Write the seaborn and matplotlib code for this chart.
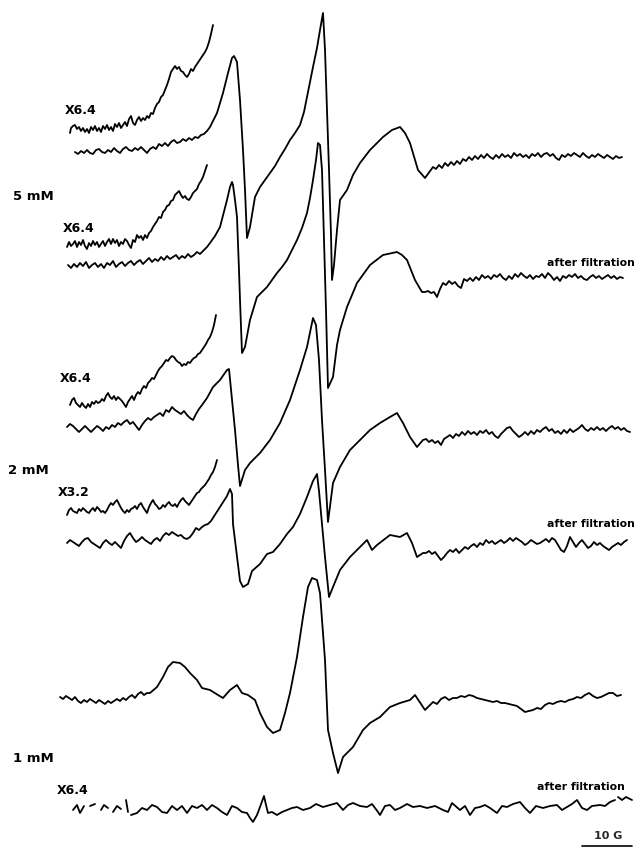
import pandas as pd
import matplotlib
matplotlib.use('Agg')
import matplotlib.pyplot as plt
import seaborn as sns

sns.set_theme(style="white")
plt.rcParams["font.family"] = ["DejaVu Sans"]

# ==== Spectra (field in chart units, signal up = positive) ====
# --- 5 mM, before filtration ---
t1_field = ([75, 78, 81, 84, 87, 90, 93, 96, 99, 102, 105, 108, 111, 114, 117, 120, 123, 126, 129, 132,
             135, 138, 141, 144, 147, 150, 153, 156, 159, 162, 165, 168, 171, 174, 177, 180, 183, 186, 189, 192,
             195, 198, 201, 204]
            + [207, 210, 213, 217, 223, 228, 232, 234, 237, 240, 243, 245, 247, 250, 255, 260, 265, 270, 275, 280,
               285, 290, 295, 300, 304, 307, 310, 313, 317, 320, 323, 325, 327, 329, 331, 332, 334, 337, 340, 347,
               353, 360, 370, 383, 392, 400, 405, 410, 418, 425]
            + [433, 436, 439, 442, 445, 448, 451, 454, 457, 460, 463, 466, 469, 472, 475, 478, 481, 484, 487, 490,
               493, 496, 499, 502, 505, 508, 511, 514, 517, 520, 523, 526, 529, 532, 535, 538, 541, 544, 547, 550,
               553, 556, 559, 562, 565, 568, 571, 574, 577, 580, 583, 586, 589, 592, 595, 598, 601, 604, 607, 610,
               613, 616, 619, 622])
t1_signal = ([0, -2, 1, -1, 2, -1, -2, 2, 3, 0, -1, 2, 0, 4, 1, -1, 3, 5, 2, 1,
              4, 2, 5, 2, -1, 3, 5, 3, 8, 6, 9, 6, 10, 12, 9, 10, 13, 11, 14, 12,
              15, 14, 17, 18]
             + [21, 25, 31, 39, 59, 79, 94, 96, 90, 52, 2, -38, -86, -75, -45, -35, -28, -21, -14, -5,
                3, 12, 19, 27, 40, 55, 70, 85, 104, 122, 139, 102, 42, -18, -83, -128, -113, -78, -48, -38,
                -23, -11, 2, 15, 22, 25, 19, 9, -18, -26]
             + [-15, -17, -13, -16, -11, -14, -10, -13, -9, -12, -7, -9, -5, -8, -4, -7, -3, -6, -2, -5,
                -7, -3, -6, -2, -5, -3, -6, -1, -4, -2, -5, -3, -6, -2, -4, -1, -5, -2, -1, -4,
                -2, -6, -8, -3, -5, -2, -4, -1, -3, -5, -1, -4, -6, -3, -5, -2, -4, -6, -3, -5,
                -7, -4, -6, -5])
# --- 5 mM, x6.4 expansion ---
e1_field = [70, 71, 73, 75, 77, 79, 81, 83, 85, 87, 89, 91, 93, 95, 97, 99, 101, 103, 105, 107,
            109, 111, 113, 115, 117, 119, 121, 123, 125, 127, 129, 131, 133, 135, 137, 139, 141, 143, 145, 147,
            149, 151, 153, 155, 157, 159, 161, 163, 165, 167, 169, 171, 173, 175, 177, 179, 181, 183, 185, 187,
            189, 191, 193, 195, 197, 199, 201, 203, 205, 207, 209, 211, 213]
e1_signal = [-1, 4, 6, 7, 3, 5, 1, 4, 0, 3, -1, 5, 2, 6, 1, 4, 0, 6, 3, 7,
             2, 5, 1, 8, 5, 9, 4, 7, 10, 6, 13, 16, 9, 7, 12, 15, 11, 14, 12, 16,
             14, 19, 18, 24, 28, 30, 35, 37, 42, 47, 53, 60, 63, 66, 63, 65, 61, 60, 57, 55,
             58, 63, 61, 65, 68, 71, 74, 77, 80, 84, 90, 98, 107]

# --- 5 mM, after filtration ---
t2_field = ([68, 71, 74, 77, 80, 83, 86, 89, 92, 95, 98, 101, 104, 107, 110, 113, 116, 119, 122, 125,
             128, 131, 134, 137, 140, 143, 146, 149, 152, 155, 158, 161, 164, 167, 170, 173, 176, 179, 182, 185,
             188, 191, 194, 197, 200, 203]
            + [207, 210, 215, 220, 227, 230, 232, 233, 235, 237, 239, 240, 242, 245, 250, 257, 262, 267, 272, 277,
               282, 287, 292, 297, 302, 307, 310, 313, 316, 318, 320, 322, 324, 326, 328, 333, 337, 340, 347, 357,
               370, 383, 397, 402, 407, 415, 422]
            + [425, 428, 431, 434, 437, 440, 443, 446, 449, 452, 455, 458, 461, 464, 467, 470, 473, 476, 479, 482,
               485, 488, 491, 494, 497, 500, 503, 506, 509, 512, 515, 518, 521, 524, 527, 530, 533, 536, 539, 542,
               545, 548, 551, 554, 557, 560, 563, 566, 569, 572, 575, 578, 581, 584, 587, 590, 593, 596, 599, 602,
               605, 608, 611, 614, 617, 620, 623])
t2_signal = ([0, -3, 1, -2, 2, -1, 3, -3, 0, 2, -2, 1, -3, 2, 0, 4, -2, 1, 3, -1,
              2, 4, 0, 3, 5, 1, 4, 7, 3, 6, 4, 8, 5, 9, 6, 8, 10, 6, 9, 7,
              11, 8, 10, 13, 11, 14]
             + [18, 22, 29, 38, 65, 78, 83, 80, 65, 48, -5, -35, -88, -82, -55, -32, -27, -22, -15, -8,
                -2, 5, 15, 25, 37, 52, 67, 85, 105, 122, 120, 95, 25, -45, -123, -112, -80, -65, -42, -18,
                0, 10, 13, 10, 5, -15, -27]
             + [-27, -26, -28, -27, -32, -24, -18, -20, -16, -19, -17, -21, -23, -14, -16, -13, -16, -12, -15, -10,
                -13, -11, -14, -10, -12, -9, -13, -15, -11, -14, -9, -12, -8, -11, -13, -10, -14, -11, -12, -9,
                -13, -8, -11, -15, -12, -16, -11, -13, -10, -12, -9, -13, -11, -14, -15, -12, -10, -13, -11, -14,
                -12, -10, -13, -11, -14, -12, -13])
e2_field = [67, 69, 71, 73, 75, 77, 79, 81, 83, 85, 87, 89, 91, 93, 95, 97, 99, 101, 103, 105,
            107, 109, 111, 113, 115, 117, 119, 121, 123, 125, 127, 129, 131, 133, 135, 137, 139, 141, 143, 145,
            147, 149, 151, 153, 155, 157, 159, 161, 163, 165, 167, 169, 171, 173, 175, 177, 179, 181, 183, 185,
            187, 189, 191, 193, 195, 197, 199, 201, 203, 205, 207]
e2_signal = [-2, 3, -1, 1, 4, -2, 3, 0, 5, -1, -4, 2, -1, 4, 0, 3, -2, 1, 4, -1,
             3, 6, 1, 6, 2, 5, -1, 3, 1, 6, 4, 0, -3, 5, 3, 10, 7, 9, 5, 10,
             7, 12, 14, 18, 21, 24, 28, 27, 33, 35, 39, 40, 44, 45, 50, 52, 54, 50, 47, 49,
             46, 45, 48, 52, 54, 56, 61, 64, 68, 74, 80]

# --- 2 mM, before filtration ---
t3_field = ([67, 70, 73, 76, 79, 82, 85, 88, 91, 94, 97, 100, 103, 106, 109, 112, 115, 118, 121, 124,
             127, 130, 133, 136, 139, 142, 145, 148, 151, 154, 157, 160, 163, 166, 169, 172, 175, 178, 181, 184,
             187, 190, 193, 196, 199, 202]
            + [207, 213, 220, 227, 229, 232, 235, 238, 240, 245, 250, 260, 270, 280, 290, 300, 307, 312, 313, 316,
               319, 322, 325, 328, 333, 340, 350, 360, 370, 380, 390, 397, 403, 410, 417, 423]
            + [426, 429, 432, 435, 438, 441, 444, 447, 450, 453, 456, 459, 462, 465, 468, 471, 474, 477, 480, 483,
               486, 489, 492, 495, 498, 501, 504, 507, 510, 513, 516, 519, 522, 525, 528, 531, 534, 537, 540, 543,
               546, 549, 552, 555, 558, 561, 564, 567, 570, 573, 576, 579, 582, 585, 588, 591, 594, 597, 600, 603,
               606, 609, 612, 615, 618, 621, 624, 627, 630])
t3_signal = ([0, 3, 1, -2, -5, -2, 1, -2, -5, -2, 1, -1, -4, 0, -2, 2, 0, 4, 2, 5,
              7, 3, 5, 1, -3, 2, 6, 9, 7, 10, 12, 14, 11, 17, 15, 20, 17, 15, 13, 16,
              12, 9, 7, 13, 18, 22]
             + [29, 40, 47, 57, 58, 27, -3, -38, -59, -43, -36, -26, -13, 4, 27, 57, 80, 104, 109, 102,
                67, 7, -43, -95, -56, -40, -23, -13, -3, 4, 10, 14, 4, -10, -20, -13]
             + [-12, -15, -13, -16, -14, -18, -12, -10, -8, -11, -7, -9, -5, -8, -4, -7, -5, -8, -4, -6,
                -3, -7, -5, -9, -11, -7, -4, -1, 0, -4, -7, -10, -8, -5, -8, -4, -7, -3, -5, -2,
                0, -4, -2, -6, -4, -7, -3, -6, -2, -5, -3, -1, 2, -2, -4, -1, -3, 0, -3, -1,
                -4, -1, 1, -2, 0, -3, -1, -4, -5])
e3_field = [70, 72, 74, 76, 78, 80, 82, 84, 86, 88, 90, 92, 94, 96, 98, 100, 102, 104, 106, 108,
            110, 112, 114, 116, 118, 120, 122, 124, 126, 128, 130, 132, 134, 136, 138, 140, 142, 144, 146, 148,
            150, 152, 154, 156, 158, 160, 162, 164, 166, 168, 170, 172, 174, 176, 178, 180, 182, 184, 186, 188,
            190, 192, 194, 196, 198, 200, 202, 204, 206, 208, 210, 212, 214, 216]
e3_signal = [0, 5, 7, 2, 0, -2, 2, -1, -3, 1, -2, 3, 1, 4, 2, 3, 6, 4, 9, 12,
             8, 6, 9, 5, 8, 6, 4, 1, -2, 3, 6, 9, 5, 10, 13, 11, 16, 19, 17, 22,
             24, 27, 26, 30, 34, 37, 39, 42, 45, 44, 47, 49, 48, 45, 43, 42, 39, 41, 40, 43,
             42, 45, 47, 48, 51, 52, 55, 58, 61, 65, 68, 73, 80, 90]

# --- 2 mM, after filtration ---
t4_field = ([67, 70, 73, 76, 79, 82, 85, 88, 91, 94, 97, 100, 103, 106, 109, 112, 115, 118, 121, 124,
             127, 130, 133, 136, 139, 142, 145, 148, 151, 154, 157, 160, 163, 166, 169, 172, 175, 178, 181, 184,
             187, 190, 193, 196, 199, 202, 205, 208, 211]
            + [220, 227, 230, 232, 233, 237, 240, 243, 248, 252, 260, 267, 273, 280, 287, 293, 300, 307, 313, 317,
               319, 322, 325, 329, 333, 340, 350, 360, 367, 372, 377, 390, 400, 407, 412, 417, 423]
            + [426, 429, 432, 435, 438, 441, 444, 447, 450, 453, 456, 459, 462, 465, 468, 471, 474, 477, 480, 483,
               486, 489, 492, 495, 498, 501, 504, 507, 510, 513, 516, 519, 522, 525, 528, 531, 534, 537, 540, 543,
               546, 549, 552, 555, 558, 561, 564, 567, 570, 573, 576, 579, 582, 585, 588, 591, 594, 597, 600, 603,
               606, 609, 612, 615, 618, 621, 624, 627])
t4_signal = ([0, 3, 1, -1, -3, 1, 4, 5, 1, -1, -3, -5, 0, 3, 0, -2, 1, -2, -5, 2,
              7, 10, 5, 1, 3, 6, 3, 1, -1, 3, 5, 2, 7, 10, 8, 11, 9, 7, 8, 5,
              4, 6, 10, 15, 13, 16, 18, 19, 22]
             + [36, 47, 54, 49, 19, -14, -38, -44, -41, -28, -21, -11, -9, -1, 9, 16, 29, 46, 62, 69,
                52, 19, -14, -54, -44, -27, -14, -4, 3, -7, -2, 8, 6, 10, 0, -14, -10]
             + [-10, -8, -11, -9, -13, -17, -14, -10, -7, -9, -6, -10, -7, -4, -6, -3, -1, -4, 0, -2,
                3, 0, 2, -1, 1, 3, 0, 2, 5, 2, 5, 3, 1, -2, 0, 3, 1, -1, 0, 2,
                4, 1, 5, 3, -2, -7, -9, -3, 6, 1, -4, 0, 3, -1, -5, -3, 1, -2, 0, -3,
                -5, -7, -4, -2, 0, -2, 1, 3])
# --- 2 mM, x3.2 expansion ---
e4_field = [67, 69, 71, 73, 75, 77, 79, 81, 83, 85, 87, 89, 91, 93, 95, 97, 99, 101, 103, 105,
            107, 109, 111, 113, 115, 117, 119, 121, 123, 125, 127, 129, 131, 133, 135, 137, 139, 141, 143, 145,
            147, 149, 151, 153, 155, 157, 159, 161, 163, 165, 167, 169, 171, 173, 175, 177, 179, 181, 183, 185,
            187, 189, 191, 193, 195, 197, 199, 201, 203, 205, 207, 209, 211, 213, 215, 217]
e4_signal = [-5, 0, 2, -1, -2, -3, 1, -1, 2, 0, -2, -3, 0, 2, -1, 3, 1, -2, -1, -3,
             0, 4, 7, 5, 8, 10, 6, 2, -1, -3, 0, -2, 1, 2, 4, 1, 5, 7, 3, 0,
             -3, 3, 7, 10, 6, 4, 1, 2, 5, 3, 6, 8, 5, 4, 6, 3, 7, 10, 12, 9,
             7, 5, 8, 11, 14, 17, 18, 21, 23, 25, 28, 31, 35, 38, 43, 50]

# --- 1 mM, before filtration ---
t5_field = ([60, 63, 66, 69, 72, 75, 78, 81, 84, 87, 90, 93, 96, 99, 102, 105, 108, 111, 114, 117,
             120, 123, 126, 129, 132, 135, 138, 141, 144, 147, 150]
            + [157, 163, 168, 173, 180, 185, 190, 197, 202, 210, 218, 223, 230, 237, 242, 248, 255, 260, 267, 273,
               280, 285, 290, 297, 303, 308, 312, 317, 320, 325, 328, 333, 338, 343, 353, 363, 370, 380, 390, 400,
               410, 415]
            + [425, 429, 433, 437, 441, 445, 449, 453, 457, 461, 465, 469, 473, 477, 481, 485, 489, 493, 497, 501,
               505, 509, 513, 517, 521, 525, 529, 533, 537, 541, 545, 549, 553, 557, 561, 565, 569, 573, 577, 581,
               585, 589, 593, 597, 601, 605, 609, 613, 617, 621])
t5_signal = ([3, 1, 4, 2, 0, 3, -1, -3, 0, -2, 1, -1, -3, 0, -2, -4, -1, -3, -1, 1,
              -1, 2, 0, 3, 5, 2, 6, 8, 5, 7, 7]
             + [13, 23, 33, 38, 37, 33, 27, 20, 12, 10, 5, 2, 10, 15, 7, 5, 0, -13, -27, -33,
                -30, -13, 7, 43, 83, 113, 122, 120, 107, 40, -30, -53, -73, -57, -47, -30, -23, -17, -7, -3,
                0, 5]
             + [-10, -6, -2, -4, 1, 3, 0, 2, 2, 4, 3, 5, 4, 2, 1, 0, -1, -2, -1, -3,
                -3, -4, -5, -6, -9, -12, -11, -10, -8, -9, -5, -3, -4, -2, -1, -2, 0, 1, 3, 2,
                5, 7, 4, 2, 3, 5, 7, 7, 4, 5])
# --- 1 mM, after filtration (x6.4); the pen skips at the start ---
t6_field = [73, 77, 80, 84, 90, 95, 101, 104, 108, 113, 117, 121, 126, 128,
            131, 137, 142, 147, 152, 157, 162, 167, 172, 177, 182, 187, 192, 197, 202, 207, 212, 217, 222, 227,
            232, 237, 242, 247, 250, 253, 257, 260, 264, 266, 268, 272, 277, 282, 287, 292, 297, 303, 310, 316,
            323, 330, 337, 343, 348, 353, 360, 367, 372, 378, 380, 385, 390, 395, 400, 407, 413, 420, 427, 435,
            443, 448, 452, 460, 465, 470, 475, 480, 485, 490, 497, 502, 507, 513, 520, 525, 530, 536, 543, 550,
            557, 562, 567, 572, 577, 582, 587, 592, 600, 605, 610, 615, 618, 622, 626, 632]
t6_signal = [-2, 3, -5, 2, 2, 4, -2, 3, 0, -4, 2, -1, 8, -4,
             -7, -5, 0, -2, 3, 1, -4, -5, 2, -2, 2, -5, 2, 0, 3, -2, 3, 0, -4, -7,
             2, 0, -4, -5, -10, -14, -7, 1, 12, 3, -5, -4, -7, -4, -2, 0, 1, -2, 0, 4,
             1, 3, 5, -2, 3, 5, 2, 1, 4, -4, -7, 2, 3, -2, 0, 4, 1, 2, 0, 2,
             -2, -4, 5, -2, 2, -7, 0, 1, 3, 0, -5, 2, 1, 4, 6, 0, -5, 2, 0, 2,
             3, -2, 1, 4, 8, 0, -2, 2, 3, 2, 6, 8, 11, 8, 11, 8]
t6_pen = [0, 0, 0, 0, 1, 1, 2, 2, 2, 3, 3, 3, 4, 4] + [5] * 92 + [6] * 4

# ==== Layout: baseline of each trace on the chart ====
traces = {
    "t1": (t1_field, t1_signal, 696),
    "e1": (e1_field, e1_signal, 716),
    "t2": (t2_field, t2_signal, 583),
    "e2": (e2_field, e2_signal, 603),
    "t3": (t3_field, t3_signal, 421),
    "e3": (e3_field, e3_signal, 443),
    "t4": (t4_field, t4_signal, 305),
    "e4": (e4_field, e4_signal, 338),
    "t5": (t5_field, t5_signal, 148),
}

frames = []
for name, (field, signal, base) in traces.items():
    frames.append(pd.DataFrame({"field": field,
                                "y": [s + base for s in signal],
                                "seg": name}))
frames.append(pd.DataFrame({"field": t6_field,
                            "y": [s + 40 for s in t6_signal],
                            "seg": [f"t6_{p}" for p in t6_pen]}))
df = pd.concat(frames, ignore_index=True)

fig = plt.figure(figsize=(6.37, 8.48), dpi=100)
ax = fig.add_axes([0, 0, 1, 1])
sns.lineplot(data=df, x="field", y="y", units="seg", estimator=None, sort=False,
             color="black", linewidth=1.3, ax=ax)
ax.set_xlim(0, 637)
ax.set_ylim(0, 848)
ax.axis("off")

# ==== Labels ====
lab = dict(color="black", fontweight="bold", va="center", ha="left")
ax.text(65, 737, "X6.4", fontsize=9, **lab)
ax.text(13, 651, "5 mM", fontsize=9.5, **lab)
ax.text(63, 620, "X6.4", fontsize=9, **lab)
ax.text(60, 470, "X6.4", fontsize=9, **lab)
ax.text(8, 377, "2 mM", fontsize=9.5, **lab)
ax.text(58, 355, "X3.2", fontsize=9, **lab)
ax.text(13, 90, "1 mM", fontsize=9.5, **lab)
ax.text(57, 58, "X6.4", fontsize=9, **lab)

af = dict(color="black", fontweight="bold", va="center", ha="right", fontsize=7.8)
ax.text(635, 585, "after filtration", **af)
ax.text(635, 324, "after filtration", **af)
ax.text(625, 61, "after filtration", **af)

# 10 G scale bar
bar_start = 582
bar_len = 50
ax.plot([bar_start, bar_start + bar_len], [2, 2], color="black", lw=1.2)
ax.text(bar_start + bar_len / 2 + 1, 12, "10 G", fontsize=8, fontweight="bold",
        ha="center", va="center")

fig.savefig("out.png", dpi=100, facecolor="white")
